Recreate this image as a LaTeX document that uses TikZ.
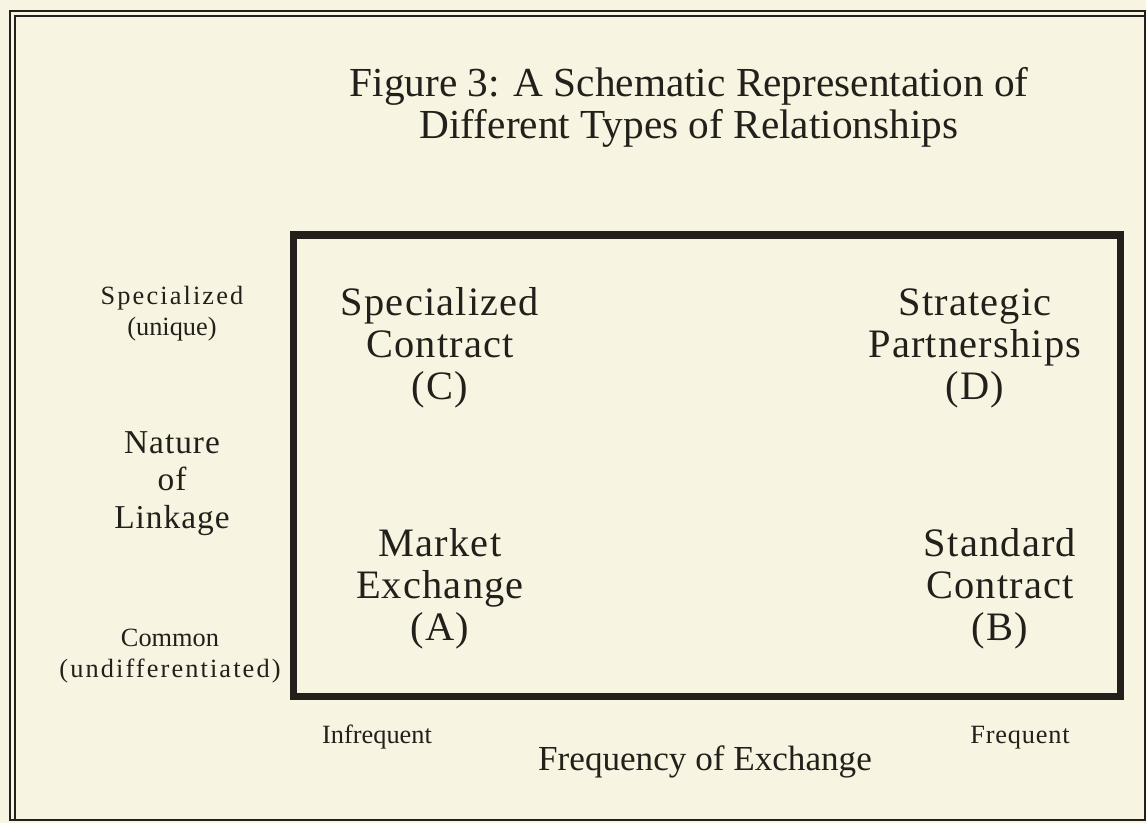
\documentclass[tikz,border=0pt]{standalone}
\usepackage{fontspec}
\setmainfont{Liberation Serif}
\newfontfamily\spaced[LetterSpace=3]{Liberation Serif}
\newfontfamily\widespaced[LetterSpace=8]{Liberation Serif}
\usetikzlibrary{positioning}
\definecolor{paper}{RGB}{248,244,226}
\definecolor{ink}{RGB}{35,31,26}
\def\fs#1#2{\fontsize{#1}{#2}\selectfont}

\begin{document}
\begin{tikzpicture}[x=0.02cm,y=-0.02cm,
	every node/.style={text=ink,align=center,anchor=base,inner sep=0pt},
	heading/.style={font=\fs{23.5}{23.8}},
	quadrant/.style={font=\spaced\fs{23}{23.8}},
	axisname/.style={font=\spaced\fs{19}{21.3}},
	endlabel/.style={font=\fs{15}{17.5}}]
\fill[paper] (0,0) rectangle (1146,823);
\useasboundingbox (0,0) rectangle (1146,823);
\draw[ink,line width=1.5pt] (10,11) rectangle (1145,820);
\draw[ink,line width=1pt] (15,820) |- (1145,16);
\draw[ink,line width=4pt] (293.5,235) rectangle (1120.5,696);

\node[heading]		(title)		at (689,138)	{Figure 3: A Schematic Representation of\\Different Types of Relationships};

\node[quadrant]		(q_C)		at (440,399)	{Specialized\\Contract\\(C)};
\node[quadrant]		(q_D)		at (975,399)	{Strategic\\Partnerships\\(D)};
\node[quadrant]		(q_A)		at (440,640)	{Market\\Exchange\\(A)};
\node[quadrant]		(q_B)		at (1000,640)	{Standard\\Contract\\(B)};

\node[endlabel]		(y_hi)		at (172,335)	{{\widespaced Specialized}\\(unique)};
\node[axisname]		(y_name)	at (172,528)	{Nature\\of\\Linkage};
\node[endlabel]		(y_lo)		at (170,677)	{Common\\{\widespaced (undifferentiated)}};

\node[endlabel]		(x_lo)		at (377,743)	{Infrequent};
\node[endlabel]		(x_hi)		at (1020,743)	{\spaced Frequent};
\node[font=\fs{20}{24}]	(x_name)	at (705,770)	{Frequency of Exchange};
\end{tikzpicture}
\end{document}
